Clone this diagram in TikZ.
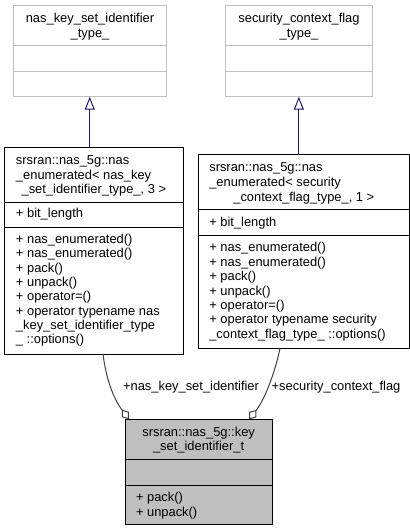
\documentclass[tikz,border=0pt]{standalone}
\usepackage{fontspec}
\setmainfont{Liberation Sans}
\usetikzlibrary{arrows.meta}
\definecolor{navy}{RGB}{25,25,112}
\definecolor{boxgray}{RGB}{191,191,191}
\definecolor{lightborder}{RGB}{191,191,191}
\definecolor{aggcol}{RGB}{64,64,64}
\begin{document}
\begin{tikzpicture}[x=1pt,y=-1pt,
  every node/.style={font=\fontsize{12.9}{14}\selectfont, inner sep=0pt, outer sep=0pt},
  classbox/.style={draw=black, line width=1pt, fill=white, rectangle, anchor=north west},
  graybox/.style={classbox, draw=lightborder},
  curbox/.style={classbox, fill=boxgray},
  lt/.style={anchor=base west},
  ct/.style={anchor=base},
  divider/.style={line width=1pt},
  inherit/.style={navy, line width=1pt, -{Triangle[open,length=13pt,width=10pt,line width=1pt]}},
  agg/.style={aggcol, line width=1pt, -{Diamond[open,length=12pt,width=9pt,line width=1pt]}},
  lbl/.style={anchor=base}
]
\useasboundingbox (0,0) rectangle (410,531);

% Top-left box A
\node[graybox, minimum width=152.5pt, minimum height=91pt] (A) at (13.5,5.7) {};
\draw[divider, lightborder] (13.5,45.7) -- (166,45.7);
\draw[divider, lightborder] (13.5,71) -- (166,71);
\node[ct] (A1) at (90,22.8) {nas\_key\_set\_identifier};
\node[ct] (A2) at (90,37.8) {\_type\_};

% Top-right box B
\node[graybox, minimum width=146.3pt, minimum height=91pt] (B) at (225.7,5.7) {};
\draw[divider, lightborder] (225.7,45.7) -- (372,45.7);
\draw[divider, lightborder] (225.7,71) -- (372,71);
\node[ct] (B1) at (299,22.8) {security\_context\_flag};
\node[ct] (B2) at (299,37.8) {\_type\_};

% Middle-left box C
\node[classbox, minimum width=178.3pt, minimum height=206.7pt] (C) at (4.7,147.3) {};
\draw[divider] (4.7,202) -- (183,202);
\draw[divider] (4.7,227.3) -- (183,227.3);
\node[lt] (C1) at (16,164.5) {srsran::nas\_5g::nas};
\node[lt] (C2) at (16,179.0) {\_enumerated< nas\_key};
\node[ct] (C3) at (93.85,193.5) {\_set\_identifier\_type\_, 3 >};
\node[lt] (C4) at (16,217.3) {+ bit\_length};
\node[lt] (C5) at (16,243.5) {+ nas\_enumerated()};
\node[lt] (C6) at (16,257.8) {+ nas\_enumerated()};
\node[lt] (C7) at (16,272.1) {+ pack()};
\node[lt] (C8) at (16,286.4) {+ unpack()};
\node[lt] (C9) at (16,300.7) {+ operator=()};
\node[lt] (C10) at (16,315.0) {+ operator typename nas};
\node[lt] (C11) at (16,329.3) {\_key\_set\_identifier\_type};
\node[lt] (C12) at (16,343.6) {\_ ::options()};

% Middle-right box D
\node[classbox, minimum width=211pt, minimum height=193.6pt] (D) at (198.3,154.7) {};
\draw[divider] (198.3,209.3) -- (409.3,209.3);
\draw[divider] (198.3,235) -- (409.3,235);
\node[lt] (D1) at (209.3,171.2) {srsran::nas\_5g::nas};
\node[lt] (D2) at (209.3,186.2) {\_enumerated< security};
\node[ct] (D3) at (303.8,201.2) {\_context\_flag\_type\_, 1 >};
\node[lt] (D4) at (209.3,226.0) {+ bit\_length};
\node[lt] (D5) at (209.3,251.8) {+ nas\_enumerated()};
\node[lt] (D6) at (209.3,266.2) {+ nas\_enumerated()};
\node[lt] (D7) at (209.3,280.6) {+ pack()};
\node[lt] (D8) at (209.3,295.0) {+ unpack()};
\node[lt] (D9) at (209.3,309.4) {+ operator=()};
\node[lt] (D10) at (209.3,323.8) {+ operator typename security};
\node[lt] (D11) at (209.3,338.2) {\_context\_flag\_type\_ ::options()};

% Bottom box E
\node[curbox, minimum width=147.3pt, minimum height=104.7pt] (E) at (125,419.3) {};
\draw[divider] (125,459.3) -- (272.3,459.3);
\draw[divider] (125,485) -- (272.3,485);
\node[ct] (E1) at (198.6,436.2) {srsran::nas\_5g::key};
\node[ct] (E2) at (198.6,450.5) {\_set\_identifier\_t};
\node[lt] (E3) at (136,501.8) {+ pack()};
\node[lt] (E4) at (136,516.2) {+ unpack()};

% Inheritance
\draw[inherit] (A.south |- C.north) -- (A.south);
\draw[inherit] (B.south |- D.north) -- (B.south);

% Aggregation
\coordinate (c1) at (103,354);
\coordinate (e1) at (129,419.3);
\coordinate (d1) at (280,348.3);
\coordinate (e2) at (249,419.3);
\draw[agg] (c1) .. controls (106,378) and (113,398) .. (e1);
\draw[agg] (d1) .. controls (276,368) and (266,398) .. (e2);
\node[lbl] (L1) at (191,390.5) {+nas\_key\_set\_identifier};
\node[lbl] (L2) at (336,390.5) {+security\_context\_flag};
\end{tikzpicture}
\end{document}
